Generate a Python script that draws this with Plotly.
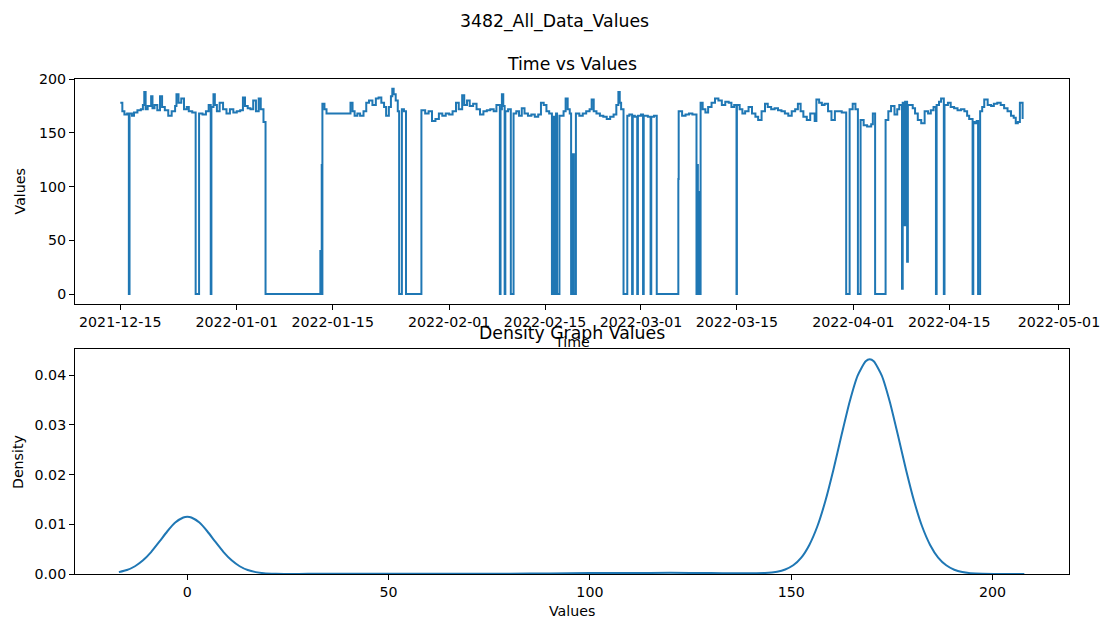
import pandas as pd
import plotly.graph_objects as go

# ---------------- data ----------------
start_date = "2021-12-15"

# day offsets from start_date, and the values measured at those times
days = [
    0, 0.3, 0.6, 1.0, 1.25, 1.35, 1.7, 2.0, 2.5, 3.0, 3.3, 3.5, 3.7, 4.0, 4.5, 4.7, 5.0, 5.4, 5.8, 6.1,
    6.5, 7.0, 7.5, 8.0, 8.2, 8.5, 8.9, 9.3, 9.7, 10.0, 10.5, 11.0, 11.5, 12.0, 12.5, 12.9, 13.2, 13.3, 13.6, 13.8,
    14.1, 14.5, 15.0, 15.5, 16.0, 16.5, 17.0, 17.5, 17.9, 18.2, 18.6, 19.0, 19.4, 19.8, 20.2, 20.5, 20.9, 21.2,
    29.2, 29.3, 29.4, 29.45, 29.5, 29.8, 30.1, 30.5, 33.6, 33.9, 34.2, 34.6, 35.0, 35.5, 35.9, 36.3, 36.8, 37.3, 37.7, 38.1,
    38.5, 38.8, 39.2, 39.5, 39.7, 39.9, 40.2, 40.5, 40.7, 41.1, 41.4, 41.7,
    43.95, 44.5, 45.0, 45.5, 46.0, 46.5, 47.0, 47.5, 48.0, 48.5, 49.0, 49.4, 49.9, 50.2, 50.6, 51.0, 51.5, 52.0, 52.5, 53.0,
    53.5, 54.0, 54.5, 54.9,
    55.4, 55.5, 55.7, 55.9, 56.1, 56.2, 56.6, 57.0, 57.4, 57.8, 58.2, 58.6, 59.0, 59.5, 60.0, 60.5, 61.0, 61.4, 61.8, 62.2,
    62.6, 63.0, 63.2, 63.35, 63.6, 63.75, 64.1, 64.4, 64.7, 65.0, 65.3, 65.6, 65.8, 66.0, 66.2, 66.5, 67.0, 67.5, 68.0, 68.5,
    68.8, 69.1, 69.5, 70.0, 70.5, 71.0, 71.5, 72.0, 72.4, 72.7, 72.9, 73.1,
    73.45, 74.0, 74.3, 74.7, 74.8, 75.1, 75.45, 75.55, 76.0, 76.3, 76.4, 77.0, 77.4, 77.5, 77.9, 78.3, 81.45, 81.5, 82.0, 82.5,
    83.0, 83.5,
    84.1, 84.2, 84.3, 84.45, 84.55, 84.7, 85.0, 85.4, 85.8, 86.3, 86.8, 87.3, 87.8, 88.3, 88.8, 89.2, 89.6, 89.94, 90.0, 90.4,
    90.8, 91.2, 91.7, 92.2, 92.7, 93.1, 93.6, 94.1, 94.5, 95.0, 95.5, 96.0, 96.5, 97.0, 97.5, 98.0, 98.5, 98.9, 99.3, 99.7,
    100.2, 100.7, 101.35, 101.6, 102.0, 102.4, 102.8, 103.3, 103.8, 104.3, 104.8, 105.3, 105.95, 106.45, 106.9, 107.3, 107.66, 108.05, 108.5, 109.0,
    109.6, 109.84, 110.17,
    111.7, 112.1, 112.5, 113.0, 113.4, 113.7, 114.1, 114.2, 114.45, 114.55, 114.84, 114.95, 115.2, 115.66, 116.0, 116.4, 116.9, 117.4, 117.9, 118.3,
    118.7, 119.05, 119.15, 119.5, 119.8, 120.2, 120.3, 120.8, 121.2, 121.7, 122.2, 122.7, 123.2, 123.6, 123.9, 124.4, 124.5, 124.7, 125.0, 125.2,
    125.5, 125.8, 126.1, 126.6, 127.1, 127.5, 128.0, 128.5, 129.0, 129.5, 130.0, 130.4, 130.7, 131.0, 131.3, 131.7,
]
values = [
    178, 170, 167, 168, 0, 168, 166, 169, 171, 172, 176, 188, 172, 175, 184, 173, 176, 171, 184, 174,
    171, 166, 170, 175, 186, 178, 182, 172, 174, 170, 169, 0, 168, 167, 170, 176, 0, 174, 186, 176,
    170, 178, 172, 168, 172, 169, 170, 171, 183, 175, 173, 172, 180, 170, 182, 172, 160, 0,
    40, 0, 120, 0, 177, 172, 168, 168, 178, 170, 166, 168, 166, 170, 178, 180, 176, 182, 183, 178,
    174, 166, 174, 184, 191, 186, 180, 170, 0, 172, 170, 0,
    171, 168, 170, 161, 163, 168, 166, 168, 167, 170, 178, 172, 185, 176, 180, 175, 177, 172, 167, 170,
    171, 172, 170, 176,
    0, 172, 186, 175, 0, 170, 172, 0, 168, 170, 166, 173, 168, 166, 167, 165, 167, 178, 176, 170,
    168, 0, 165, 0, 168, 0, 166, 166, 170, 182, 172, 168, 0, 130, 0, 168, 166, 168, 170, 172,
    181, 170, 168, 166, 165, 163, 165, 167, 176, 188, 178, 172,
    0, 166, 167, 0, 166, 165, 0, 166, 167, 0, 166, 165, 0, 165, 166, 0, 107, 170, 166, 167,
    168, 167,
    0, 120, 0, 95, 0, 178, 172, 169, 174, 178, 182, 180, 176, 179, 178, 174, 176, 0, 176, 172,
    168, 170, 174, 168, 165, 162, 170, 177, 174, 172, 173, 171, 170, 168, 166, 170, 172, 177, 170, 165,
    162, 168, 161, 181, 178, 176, 177, 170, 162, 170, 170, 169, 0, 172, 177, 172, 0, 162, 157, 156,
    158, 168, 0,
    162, 170, 175, 167, 172, 176, 5, 178, 64, 179, 30, 176, 176, 173, 168, 162, 159, 170, 168, 171,
    174, 0, 176, 179, 182, 0, 176, 178, 174, 173, 171, 172, 170, 166, 163, 0, 160, 159, 161, 0,
    170, 174, 181, 176, 175, 177, 178, 176, 173, 170, 166, 164, 159, 160, 178, 163,
]
assert len(days) == len(values), (len(days), len(values))

date_ticks = ["2021-12-15", "2022-01-01", "2022-01-15", "2022-02-01", "2022-02-15",
              "2022-03-01", "2022-03-15", "2022-04-01", "2022-04-15", "2022-05-01"]
value_ticks = [0, 50, 100, 150, 200]

density_x = [-17, -15, -13, -11, -9, -7, -5, -3, -1, 0,
             1, 3, 5, 7, 9, 11, 13, 15, 17, 19,
             22, 25, 30, 40, 50, 60, 70, 80, 90, 100,
             110, 120, 130, 136, 140, 143.5, 146.5, 148.5, 150.5, 152.5,
             154.5, 156.5, 158.5, 160.5, 162.5, 164.5, 166.5, 168.5, 169.5, 170.5,
             172.5, 174.5, 176.5, 178.5, 180.5, 182.5, 184.5, 186.5, 188.5, 190.5,
             192.5, 194.5, 197.5, 200.5, 204, 207.9]
density_y = [0.00038, 0.0008, 0.00156, 0.00275, 0.00441, 0.00644, 0.00855, 0.01034, 0.01136, 0.0115,
             0.01136, 0.01034, 0.00855, 0.00644, 0.00441, 0.00275, 0.00156, 0.0008, 0.00038, 0.00016,
             0.00005, 0.00002, 0.00003, 0.00004, 0.00004, 0.00005, 0.00005, 0.00007, 0.00012, 0.00018,
             0.0002, 0.00024, 0.0002, 0.00015, 0.00015, 0.0002, 0.00047, 0.00091, 0.00175, 0.0033,
             0.00585, 0.0096, 0.01473, 0.02103, 0.02795, 0.0346, 0.0399, 0.0428, 0.0432, 0.0428,
             0.0399, 0.0346, 0.02795, 0.02103, 0.01473, 0.0096, 0.00585, 0.0033, 0.00175, 0.00086,
             0.00039, 0.00017, 0.00004, 0.00001, 0.0, 0.0]
assert len(density_x) == len(density_y)
density_ticks_x = [0, 50, 100, 150, 200]
density_ticks_y = [0.0, 0.01, 0.02, 0.03, 0.04]

# ---------------- figure ----------------
W, H = 1112, 624
L, R, T, B = 75, 40.3, 78.5, 49.7
PW, PH = W - L - R, H - T - B


def px(x):
    return (x - L) / PW


def py(y):
    return (H - B - y) / PH


t0 = pd.Timestamp(start_date)
times = t0 + pd.to_timedelta(days, unit="D")

BLUE = "#1f77b4"
FONT = "DejaVu Sans"
TICK = 14.2
TITLE = 17.3

fig = go.Figure()
fig.add_trace(go.Scatter(x=times, y=values, mode="lines", line=dict(color=BLUE, width=2, shape="hv"),
                         xaxis="x", yaxis="y", showlegend=False))
fig.add_trace(go.Scatter(x=density_x, y=density_y, mode="lines",
                         line=dict(color=BLUE, width=2, shape="spline", smoothing=0.6),
                         xaxis="x2", yaxis="y2", showlegend=False))

axis_common = dict(showline=True, linecolor="black", linewidth=1, mirror=True,
                   ticks="outside", ticklen=5, tickwidth=1, tickcolor="black",
                   showgrid=False, zeroline=False,
                   tickfont=dict(family=FONT, size=TICK, color="black"))

top_lo, top_hi = py(304.3), py(78.5)
bot_lo, bot_hi = py(574.3), py(349.3)

xr0 = t0 + pd.Timedelta(days=-6.61)
xr1 = t0 + pd.Timedelta(days=138.47)

fig.update_layout(
    width=W, height=H,
    margin=dict(l=L, r=R, t=T, b=B),
    paper_bgcolor="white", plot_bgcolor="white",
    font=dict(family=FONT, color="black"),
    xaxis=dict(axis_common, domain=[0, 1], anchor="y", type="date",
               range=[xr0, xr1], tickvals=date_ticks, ticktext=date_ticks),
    yaxis=dict(axis_common, domain=[top_lo, top_hi], anchor="x",
               range=[-9.6, 200.1], tickvals=value_ticks),
    xaxis2=dict(axis_common, domain=[0, 1], anchor="y2",
                range=[-27.9, 219.0], tickvals=density_ticks_x),
    yaxis2=dict(axis_common, domain=[bot_lo, bot_hi], anchor="x2",
                range=[0, 0.04518], tickvals=density_ticks_y, tickformat=".2f"),
)

ann = [
    dict(text="3482_All_Data_Values", x=px(556), y=py(21), size=TITLE, angle=0),
    dict(text="Time vs Values", x=px(573.5), y=py(63), size=TITLE, angle=0),
    dict(text="Time", x=px(573.5), y=py(342), size=TICK, angle=0),
    dict(text="Density Graph Values", x=px(573.5), y=py(333), size=TITLE, angle=0),
    dict(text="Values", x=px(573.5), y=py(611), size=TICK, angle=0),
    dict(text="Values", x=px(20), y=py(191), size=TICK, angle=-90),
    dict(text="Density", x=px(18), y=py(462), size=TICK, angle=-90),
]
for a in ann:
    fig.add_annotation(text=a["text"], x=a["x"], y=a["y"], xref="paper", yref="paper",
                       showarrow=False, textangle=a["angle"], xanchor="center", yanchor="middle",
                       font=dict(family=FONT, size=a["size"], color="black"))

fig.write_html("out.html")
